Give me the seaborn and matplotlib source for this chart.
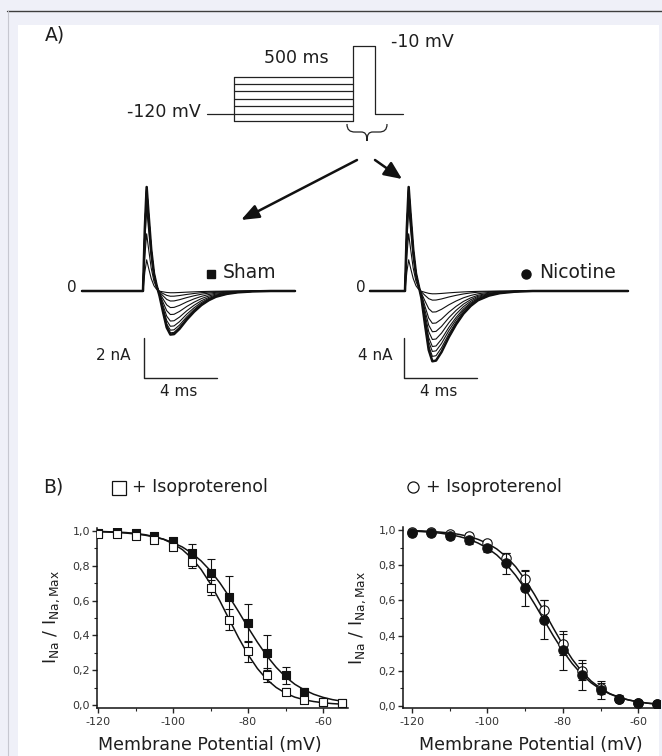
import numpy as np
import pandas as pd
import matplotlib
matplotlib.use('Agg')
import matplotlib.pyplot as plt
import seaborn as sns
from matplotlib.patches import Rectangle, PathPatch
from matplotlib.path import Path
from matplotlib.ticker import MultipleLocator, FuncFormatter

W, H = 662, 756

# ---- A) pulse protocol (schematic, mV) ----
hold_mv = -120
test_mv = -10
prepulse_mv = [-132, -120, -108, -96, -84, -72, -60]
seg_hold, seg_pre, seg_test, seg_post = 27, 118, 22, 28   # schematic lengths

# ---- A) current traces: template ----
trace_t = [0.0, 0.1, 0.2, 0.3, 0.45, 0.6, 0.75, 0.9, 1.1, 1.3, 1.5, 1.7, 2.0,
           2.4, 2.8, 3.2, 3.6, 4.0, 4.6, 5.2, 6.0, 7.0]
capacitive = [0, 0.6, 1.0, 0.75, 0.4, 0.17, 0.05, 0, 0, 0, 0, 0, 0,
              0, 0, 0, 0, 0, 0, 0, 0, 0]
sodium = [0, 0, 0, 0, 0, 0, 0, -0.1, -0.48, -0.83, -0.99, -0.98, -0.86,
          -0.65, -0.47, -0.32, -0.21, -0.13, -0.065, -0.03, -0.01, 0]

sham_na, sham_cap = 2.2, 5.2      # nA
nic_na, nic_cap = 7.1, 10.4
sham_na_frac = [1.0, 0.96, 0.9, 0.81, 0.69, 0.54, 0.38, 0.23, 0.12, 0.04]
nic_na_frac = [1.0, 0.93, 0.86, 0.79, 0.69, 0.58, 0.46, 0.3, 0.13, 0.04]
cap_frac = [1.0, 1.0, 1.0, 1.0, 0.99, 0.97, 0.92, 0.8, 0.55, 0.3]

# ---- B) steady-state inactivation ----
volt = [-120, -115, -110, -105, -100, -95, -90, -85, -80, -75, -70, -65, -60, -55]
sham = [0.99, 1.0, 0.99, 0.97, 0.94, 0.874, 0.76, 0.62, 0.47, 0.30, 0.17, 0.076, 0.02, 0.01]
sham_err = [0.01, 0.01, 0.01, 0.015, 0.02, 0.05, 0.08, 0.12, 0.11, 0.10, 0.05, 0.02, 0.01, 0.01]
sham_iso = [0.98, 0.98, 0.97, 0.95, 0.91, 0.82, 0.675, 0.49, 0.31, 0.17, 0.076, 0.03, 0.02, 0.01]
sham_iso_err = [0.01, 0.01, 0.01, 0.015, 0.02, 0.03, 0.045, 0.06, 0.06, 0.04, 0.02, 0.01, 0.01, 0.01]
nic = [0.985, 0.985, 0.966, 0.943, 0.896, 0.81, 0.668, 0.49, 0.317, 0.175, 0.09, 0.04, 0.017, 0.01]
nic_err = [0.01, 0.01, 0.015, 0.02, 0.02, 0.06, 0.1, 0.11, 0.11, 0.085, 0.05, 0.02, 0.01, 0.01]
nic_iso = [0.99, 0.99, 0.977, 0.968, 0.924, 0.84, 0.72, 0.545, 0.35, 0.197, 0.10, 0.04, 0.017, 0.01]
nic_iso_err = [0.005, 0.005, 0.01, 0.015, 0.02, 0.03, 0.05, 0.06, 0.06, 0.05, 0.03, 0.015, 0.01, 0.01]

fit_v = np.arange(-120, -54, 2.5)
sham_fit = [0.996, 0.994, 0.992, 0.988, 0.983, 0.976, 0.966, 0.953, 0.933, 0.908, 0.873, 0.828,
            0.771, 0.702, 0.622, 0.536, 0.446, 0.361, 0.283, 0.217, 0.162, 0.119, 0.087,
            0.062, 0.044, 0.031, 0.022]
sham_iso_fit = [0.998, 0.996, 0.994, 0.991, 0.986, 0.979, 0.968, 0.952, 0.927, 0.893, 0.844,
                0.779, 0.696, 0.598, 0.491, 0.386, 0.290, 0.210, 0.147, 0.101, 0.068, 0.045,
                0.030, 0.020, 0.013, 0.008, 0.005]
nic_fit = [0.994, 0.991, 0.987, 0.982, 0.974, 0.963, 0.948, 0.926, 0.897, 0.858, 0.806, 0.742,
           0.666, 0.580, 0.489, 0.398, 0.314, 0.241, 0.180, 0.132, 0.095, 0.068, 0.048,
           0.034, 0.024, 0.016, 0.011]
nic_iso_fit = [0.996, 0.995, 0.992, 0.988, 0.983, 0.975, 0.964, 0.947, 0.924, 0.892, 0.848,
               0.791, 0.718, 0.633, 0.539, 0.442, 0.349, 0.266, 0.197, 0.142, 0.101, 0.070,
               0.049, 0.034, 0.023, 0.016, 0.011]

INK = '#111111'
TXT = '#1e1e1e'


def px_axes(fig, x0, y0, x1, y1, **kw):
    # axes placed by pixel box (y measured from top)
    return fig.add_axes([x0 / W, 1 - y1 / H, (x1 - x0) / W, (y1 - y0) / H], **kw)


def plot_traces(ax, peak_na, peak_cap, na_frac, t_start, t_end):
    rows = []
    for k, (fn, fc) in enumerate(zip(na_frac, cap_frac)):
        cur = [peak_cap * fc * c + peak_na * fn * s for c, s in zip(capacitive, sodium)]
        tt = [t_start] + trace_t + [t_end]
        ii = [0] + cur + [0]
        rows += [dict(trace=k, t=a, i=b) for a, b in zip(tt, ii)]
    df = pd.DataFrame(rows)
    sns.lineplot(data=df, x='t', y='i', units='trace', estimator=None, sort=False,
                 color=INK, lw=0.8, ax=ax, legend=False)
    sns.lineplot(data=df[df.trace == 0], x='t', y='i', estimator=None, sort=False,
                 color=INK, lw=1.8, ax=ax, legend=False)
    ax.axis('off')


def scale_bar(ax, t0, i0, dt, di, lab_i, lab_t, t_off, lab_y):
    ax.plot([t0, t0, t0 + dt], [i0 + di, i0, i0], color='#222222', lw=1.0, clip_on=False)
    ax.text(t0 + t_off, i0 + di * 0.55, lab_i, ha='right', va='center', fontsize=11,
            color=TXT, clip_on=False)
    ax.text(t0 + dt * 0.48, i0 + lab_y, lab_t, ha='center', va='center', fontsize=11,
            color=TXT, clip_on=False)


def inactivation_panel(ax, filled, filled_err, opened, opened_err, f_fit, o_fit, marker, open_on_top):
    sns.lineplot(x=fit_v, y=f_fit, color=INK, lw=1.1, ax=ax, zorder=2)
    sns.lineplot(x=fit_v, y=o_fit, color=INK, lw=1.1, ax=ax, zorder=2)
    ms = 40 if marker == 's' else 46
    z_f, z_o = (4, 5) if open_on_top else (5, 4)
    ax.errorbar(volt, filled, yerr=filled_err, fmt='none', ecolor=INK, elinewidth=0.8,
                capsize=2.6, capthick=0.8, zorder=z_f)
    ax.errorbar(volt, opened, yerr=opened_err, fmt='none', ecolor=INK, elinewidth=0.8,
                capsize=2.6, capthick=0.8, zorder=z_o)
    sns.scatterplot(x=volt, y=filled, marker=marker, s=ms, color=INK, edgecolor=INK,
                    linewidth=0.8, ax=ax, zorder=z_f)
    sns.scatterplot(x=volt, y=opened, marker=marker, s=ms, color='white', edgecolor=INK,
                    linewidth=0.8, ax=ax, zorder=z_o)
    ax.xaxis.set_major_locator(MultipleLocator(20))
    ax.xaxis.set_minor_locator(MultipleLocator(10))
    ax.yaxis.set_major_locator(MultipleLocator(0.2))
    ax.yaxis.set_minor_locator(MultipleLocator(0.1))
    ax.yaxis.set_major_formatter(FuncFormatter(lambda v, p: f'{v:.1f}'.replace('.', ',')))
    ax.xaxis.set_major_formatter(FuncFormatter(lambda v, p: f'{v:.0f}'))
    ax.tick_params(which='major', direction='out', length=3.5, width=1.0, labelsize=8,
                   labelcolor='#333333', pad=1.5)
    ax.tick_params(which='minor', direction='out', length=2, width=0.8)
    ax.tick_params(axis='x', pad=3)
    for s in ['left', 'bottom']:
        ax.spines[s].set_linewidth(1.1)
        ax.spines[s].set_color(INK)
    sns.despine(ax=ax)
    ax.set_xlabel('')
    ax.set_ylabel('')
    ax.patch.set_alpha(0)


sns.set_theme(style='ticks')
plt.rcParams['font.family'] = ['DejaVu Sans']
plt.rcParams['axes.unicode_minus'] = False
plt.rcParams['mathtext.default'] = 'regular'
plt.rcParams['text.color'] = TXT

fig = plt.figure(figsize=(W / 100, H / 100), dpi=100)
fig.patch.set_facecolor('#eff0f8')

# page frame
bg = px_axes(fig, 0, 0, W, H, zorder=-5)
bg.set_xlim(0, W)
bg.set_ylim(H, 0)
bg.axis('off')
bg.add_patch(Rectangle((18, 25), 641, H - 25 + 2, fc='white', ec='none'))
bg.plot([7, W], [10.5, 10.5], color='#3e3e3e', lw=1.0)
bg.plot([7.5, 7.5], [10.5, H], color='#c6c7d0', lw=0.8)

# protocol drawing
pa = px_axes(fig, 207, 46, 403, 121)
x_b0 = seg_hold
x_b1 = seg_hold + seg_pre
x_t1 = x_b1 + seg_test
x_end = x_t1 + seg_post
pa.set_xlim(0, x_end)
pa.set_ylim(min(prepulse_mv), test_mv)
pa.plot([0, x_b0], [hold_mv, hold_mv], color='#222222', lw=0.9, clip_on=False)
for v in prepulse_mv:
    pa.plot([x_b0, x_b1], [v, v], color='#222222', lw=0.9, clip_on=False)
pa.plot([x_b0, x_b0], [min(prepulse_mv), max(prepulse_mv)], color='#222222', lw=0.9, clip_on=False)
pa.plot([x_b1, x_b1, x_t1, x_t1, x_end],
        [min(prepulse_mv), test_mv, test_mv, hold_mv, hold_mv], color='#222222', lw=0.9, clip_on=False)
pa.axis('off')

# trace panels (pixel scale: 18.25 px per ms; baseline at y=291)
px_ms = 18.25
base_y = 291
sham_on, nic_on = 143, 405
ax_s = px_axes(fig, 60, 175, 305, 405)
ax_s.set_xlim((60 - sham_on) / px_ms, (305 - sham_on) / px_ms)
ax_s.set_ylim(-(405 - base_y) / 20, (base_y - 175) / 20)
plot_traces(ax_s, sham_na, sham_cap, sham_na_frac, (82 - sham_on) / px_ms, (295 - sham_on) / px_ms)
scale_bar(ax_s, 0.05, -4.35, 4, 2, '2 nA', '4 ms', -0.75, -0.66)

ax_n = px_axes(fig, 340, 175, 640, 405)
ax_n.set_xlim((340 - nic_on) / px_ms, (640 - nic_on) / px_ms)
ax_n.set_ylim(-(405 - base_y) / 10, (base_y - 175) / 10)
plot_traces(ax_n, nic_na, nic_cap, nic_na_frac, (370 - nic_on) / px_ms, (628 - nic_on) / px_ms)
scale_bar(ax_n, -0.05, -8.7, 4, 4, '4 nA', '4 ms', -0.65, -1.4)

# inactivation panels
ax_l = px_axes(fig, 97, 528, 348, 708)
ax_l.set_xlim(-120 - 1 / 3.75, -120 + (348 - 98) / 3.75)
ax_l.set_ylim(-3 / 174, 1 + 3 / 174)
inactivation_panel(ax_l, sham, sham_err, sham_iso, sham_iso_err, sham_fit, sham_iso_fit, 's', True)

ax_r = px_axes(fig, 403, 527, 660, 708)
ax_r.set_xlim(-120 - 9 / 3.77, -120 + (660 - 412) / 3.77)
ax_r.set_ylim(-2 / 176, 1 + 3 / 176)
inactivation_panel(ax_r, nic, nic_err, nic_iso, nic_iso_err, nic_fit, nic_iso_fit, 'o', False)

# overlay: labels, arrows, brace
ov = px_axes(fig, 0, 0, W, H, zorder=10)
ov.set_xlim(0, W)
ov.set_ylim(H, 0)
ov.axis('off')
ov.patch.set_alpha(0)

ov.text(45, 35, 'A)', fontsize=13.5, ha='left', va='center')
ov.text(43, 487, 'B)', fontsize=13.5, ha='left', va='center')
ov.text(296, 58, '500 ms', fontsize=12.5, ha='center', va='center')
ov.text(201, 112, '-120 mV', fontsize=12.5, ha='right', va='center')
ov.text(391, 42, '-10 mV', fontsize=12.5, ha='left', va='center')

brace = Path([(347, 124), (347, 130), (350, 132), (355, 132), (361, 132),
              (365, 132), (367, 134), (367, 141), (367, 134), (369, 132), (373, 132),
              (379, 132), (384, 132), (387, 130), (387, 124)],
             [Path.MOVETO, Path.CURVE4, Path.CURVE4, Path.CURVE4, Path.LINETO,
              Path.CURVE4, Path.CURVE4, Path.CURVE4, Path.CURVE4, Path.CURVE4, Path.CURVE4,
              Path.LINETO, Path.CURVE4, Path.CURVE4, Path.CURVE4])
ov.add_patch(PathPatch(brace, fc='none', ec='#222222', lw=0.9))

ov.annotate('', xy=(241, 220), xytext=(357, 160),
            arrowprops=dict(arrowstyle='-|>,head_length=0.9,head_width=0.35', lw=1.8, color=INK,
                            shrinkA=0, shrinkB=0))
ov.annotate('', xy=(402, 179), xytext=(375, 160),
            arrowprops=dict(arrowstyle='-|>,head_length=0.9,head_width=0.4', lw=1.8, color=INK,
                            shrinkA=0, shrinkB=0))

ov.text(77, 287, '0', fontsize=11, ha='right', va='center')
ov.text(366, 287, '0', fontsize=11, ha='right', va='center')
ov.plot([211], [274], marker='s', ms=6, color=INK)
ov.text(223, 273, 'Sham', fontsize=13.5, ha='left', va='center')
ov.plot([526], [274], marker='o', ms=6.5, color=INK)
ov.text(539, 273, 'Nicotine', fontsize=13.5, ha='left', va='center')

ov.plot([119], [488], marker='s', ms=10, mfc='white', mec=INK, mew=0.9)
ov.text(132, 487, '+ Isoproterenol', fontsize=12.5, ha='left', va='center')
ov.plot([413], [487], marker='o', ms=8, mfc='white', mec=INK, mew=0.9)
ov.text(426, 487, '+ Isoproterenol', fontsize=12.5, ha='left', va='center')

ylab = r'$I_{Na}$ / $I_{Na,Max}$'
ov.text(52, 617, ylab, fontsize=12.5, rotation=90, ha='center', va='center')
ov.text(358, 618, ylab, fontsize=12.5, rotation=90, ha='center', va='center')
ov.text(210, 745, 'Membrane Potential (mV)', fontsize=12.5, ha='center', va='center')
ov.text(531, 745, 'Membrane Potential (mV)', fontsize=12.5, ha='center', va='center')

fig.savefig('out.png', dpi=100, facecolor=fig.get_facecolor())
